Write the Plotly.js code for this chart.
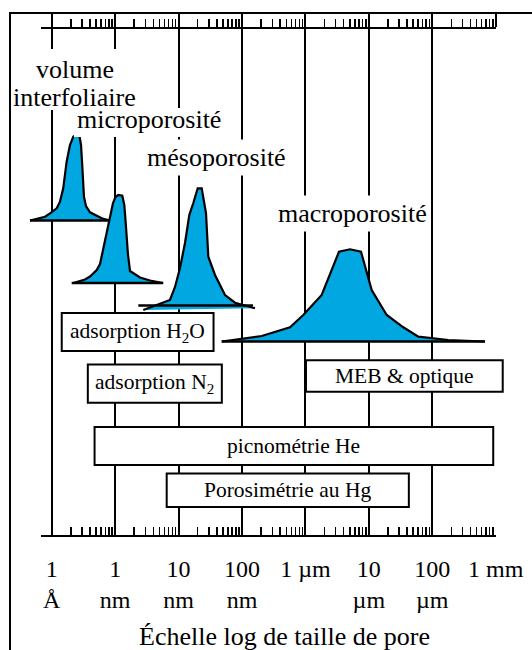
<!DOCTYPE html>
<html>
<head>
<meta charset="utf-8">
<script src="https://cdn.plot.ly/plotly-3.0.1.min.js"></script>
<style>
  html, body { margin: 0; padding: 0; background: #fff; }
  #chart { width: 532px; height: 650px; }
</style>
</head>
<body>
<div id="chart"></div>
<script>
// ---- Pore-size scale (pore size in nm) ----
const tickVals = [0.1, 1, 10, 100, 1000, 1e4, 1e5, 1e6];
const tickText = ['1<br>Å', '1<br>nm', '10<br>nm', '100<br>nm', '1 µm', '10<br>µm', '100<br>µm', '1 mm'];

// ---- Pore-size distributions: size (nm) and relative height ----
const interfoliaireSize = [0.0455, 0.0784, 0.094, 0.120, 0.135, 0.152, 0.172, 0.194, 0.219, 0.248, 0.274, 0.290, 0.306, 0.323, 0.347, 0.402, 0.614, 0.830];
const interfoliaireHeight = [0, 3.8, 7.2, 12.2, 18.8, 32.2, 58.8, 75.5, 83.8, 86.2, 84.5, 75.5, 50.5, 23.5, 14.5, 8.2, 2.2, 0];
const interfoliaireBase = [0.0455, 0.830];

const microSize = [0.219, 0.335, 0.402, 0.512, 0.578, 0.692, 0.830, 0.926, 1.014, 1.122, 1.297, 1.395, 1.457, 1.522, 1.596, 1.716, 2.466, 3.546, 5.685];
const microHeight = [0, 3.5, 6.5, 13, 19, 42, 66, 80, 86, 88, 87.3, 78, 63, 43, 28, 12, 5.5, 2.5, 0];
const microBase = [0.2065, 5.74];

const mesoSize = [2.78, 7.33, 8.79, 10.54, 12.63, 14.77, 17.08, 20.04, 23.17, 27.08, 29.44, 37.54, 53.97, 77.6, 160.4];
const mesoHeight = [-4.5, 5.5, 18.5, 37.5, 62.5, 90.5, 102.5, 117.2, 117.2, 92.5, 48.8, 30.5, 10.5, 2.8, -2.8];
const mesoBase = [2.32, 149];

const macroSize = [47.9, 204.5, 571, 926, 1806, 3383, 5045, 7520, 11090, 19110, 34930, 60210, 178900, 678100];
const macroHeight = [0, 5.5, 14.2, 26.5, 46.5, 89.8, 92.2, 89.8, 51.5, 26.5, 14.2, 4.8, 1.5, 0];
const macroBase = [47.9, 678100];

// ---- Measurement techniques and their pore-size ranges (nm) ----
const techniques = ['adsorption H<sub>2</sub>O', 'adsorption N<sub>2</sub>', 'MEB &amp; optique', 'picnométrie He', 'Porosimétrie au Hg'];
const techMin = [0.144, 0.371, 1021, 0.474, 6.50];
const techMax = [35.6, 48.1, 1.29e6, 9.14e5, 42700];

// ---- Geometry ----
const W = 532, H = 650;
const M = { l: 11, r: 0, t: 14, b: 0 };
const plotW = W - M.l - M.r;
const plotH = H - M.t - M.b;
const decadePx = 63.43;     // pixels per decade
const originPx = 51.7;      // pixel column of 0.1 nm
const logAt = px => (px - originPx) / decadePx - 1;
const paperX = px => (px - M.l) / plotW;
const paperY = py => (H - M.b - py) / plotH;
const rowY = py => H - M.b - py;   // vertical units of the drawing axis

const FONT = '"Liberation Serif", "Times New Roman", serif';
const BLUE = '#00A7E1';

// baselines of each distribution and rows of the technique boxes
const curveRows = [rowY(220.5), rowY(283), rowY(305.5), rowY(341.5)];
const boxRows = [[313, 351], [364.6, 402.7], [360.2, 391.8], [426.9, 465], [473.5, 507]];

const curves = [
  [interfoliaireSize, interfoliaireHeight, interfoliaireBase],
  [microSize, microHeight, microBase],
  [mesoSize, mesoHeight, mesoBase],
  [macroSize, macroHeight, macroBase]
];

const data = [
  { x: [], y: [], type: 'scatter', xaxis: 'x', yaxis: 'y', hoverinfo: 'skip' },
  { x: [], y: [], type: 'scatter', xaxis: 'x3', yaxis: 'y', hoverinfo: 'skip' }
];

curves.forEach(([sz, ht, base], i) => {
  const b = curveRows[i];
  data.push({
    type: 'scatter', mode: 'lines', x: sz, y: ht.map(h => b + h),
    fill: 'toself', fillcolor: BLUE,
    line: { color: '#000', width: 2.2 },
    xaxis: 'x2', yaxis: 'y2', hoverinfo: 'skip'
  });
  data.push({
    type: 'scatter', mode: 'lines', x: base, y: [b, b],
    line: { color: '#000', width: 2.5 },
    xaxis: 'x2', yaxis: 'y2', hoverinfo: 'skip'
  });
});

const minorTicks = [];
tickVals.slice(0, -1).forEach(d => [2, 3, 4, 5, 6, 7, 8, 9].forEach(k => minorTicks.push(d * k)));

const axLeft = 40.7, axRight = 495.8;
const tickRange = [logAt(axLeft), logAt(axRight)];
const tickDomain = [paperX(axLeft), paperX(axRight)];

const shapes = techniques.map((t, i) => ({
  type: 'rect', xref: 'x2', yref: 'y2',
  x0: techMin[i], x1: techMax[i],
  y0: rowY(boxRows[i][1]), y1: rowY(boxRows[i][0]),
  line: { color: '#000', width: 2 }, fillcolor: '#fff', layer: 'above'
}));

// white backings behind the upper labels, hiding the grid lines there
const backing = (x0, x1, top, bottom) => ({
  type: 'rect', xref: 'paper', yref: 'paper',
  x0: paperX(x0), x1: paperX(x1), y0: paperY(bottom), y1: paperY(top),
  line: { width: 0 }, fillcolor: '#fff', layer: 'above'
});
shapes.push(backing(14, 137, 49, 110), backing(74, 224, 108, 137));

const annotations = techniques.map((t, i) => ({
  xref: 'x2', yref: 'y2',
  x: (Math.log10(techMin[i]) + Math.log10(techMax[i])) / 2,
  y: rowY((boxRows[i][0] + boxRows[i][1]) / 2),
  text: t, showarrow: false,
  font: { family: FONT, size: 21.5, color: '#000' }
}));

const peakLabel = (text, cx, cy, bg) => ({
  xref: 'paper', yref: 'paper', x: paperX(cx), y: paperY(cy),
  xanchor: 'center', yanchor: 'middle',
  text: text, showarrow: false, bgcolor: bg ? '#fff' : 'rgba(0,0,0,0)', borderpad: 3,
  font: { family: FONT, size: 26, color: '#000' }
});

annotations.push(
  peakLabel('volume', 75, 70, false),
  peakLabel('interfoliaire', 74, 97, false),
  peakLabel('microporosité', 149, 120, false),
  peakLabel('mésoporosité', 216.5, 158, true),
  peakLabel('macroporosité', 352.5, 213, true),
  {
    xref: 'paper', yref: 'paper', x: paperX(284), y: paperY(636),
    xanchor: 'center', yanchor: 'middle', showarrow: false,
    text: 'Échelle log de taille de pore',
    font: { family: FONT, size: 26, color: '#000' }
  }
);

const layout = {
  width: W, height: H,
  margin: M,
  paper_bgcolor: '#fff',
  plot_bgcolor: 'rgba(0,0,0,0)',
  showlegend: false,
  hovermode: false,
  font: { family: FONT, color: '#000' },
  // pore-size axis along the bottom, with decade grid lines
  xaxis: {
    type: 'log', domain: tickDomain, range: tickRange, anchor: 'y',
    tickmode: 'array', tickvals: tickVals, ticktext: tickText,
    tickfont: { family: FONT, size: 24, color: '#000' },
    ticks: 'inside', ticklen: 8, tickwidth: 2, tickcolor: '#000',
    ticklabelstandoff: 11,
    minor: { tickmode: 'array', tickvals: minorTicks, ticks: 'inside', ticklen: 8.5, tickwidth: 1.5, tickcolor: '#000', showgrid: false },
    showgrid: true, gridcolor: '#000', gridwidth: 2,
    showline: true, linecolor: '#000', linewidth: 2,
    zeroline: false, fixedrange: true
  },
  // same scale repeated along the top
  xaxis3: {
    type: 'log', overlaying: 'x', side: 'top', anchor: 'y', range: tickRange,
    tickmode: 'array', tickvals: tickVals, showticklabels: false,
    ticks: 'outside', ticklen: 13, tickwidth: 2, tickcolor: '#000',
    minor: { tickmode: 'array', tickvals: minorTicks, ticks: 'outside', ticklen: 8.5, tickwidth: 1.5, tickcolor: '#000', showgrid: false },
    showgrid: false, showline: true, linecolor: '#000', linewidth: 2,
    zeroline: false, fixedrange: true
  },
  yaxis: {
    domain: [paperY(535), paperY(29.3)], range: [0, 1],
    visible: false, fixedrange: true
  },
  // full-frame axes carrying the distributions and the boxes
  xaxis2: {
    type: 'log', domain: [0, 1], range: [logAt(M.l), logAt(W - M.r)], anchor: 'y2',
    side: 'top', showline: true, linecolor: '#000', linewidth: 2,
    showgrid: false, zeroline: false, ticks: '', showticklabels: false, fixedrange: true
  },
  yaxis2: {
    domain: [0, 1], range: [0, plotH], anchor: 'x2',
    side: 'left', showline: true, linecolor: '#000', linewidth: 2,
    showgrid: false, zeroline: false, ticks: '', showticklabels: false, fixedrange: true
  },
  shapes: shapes,
  annotations: annotations
};

Plotly.newPlot('chart', data, layout, { staticPlot: true, displayModeBar: false });
</script>
</body>
</html>
